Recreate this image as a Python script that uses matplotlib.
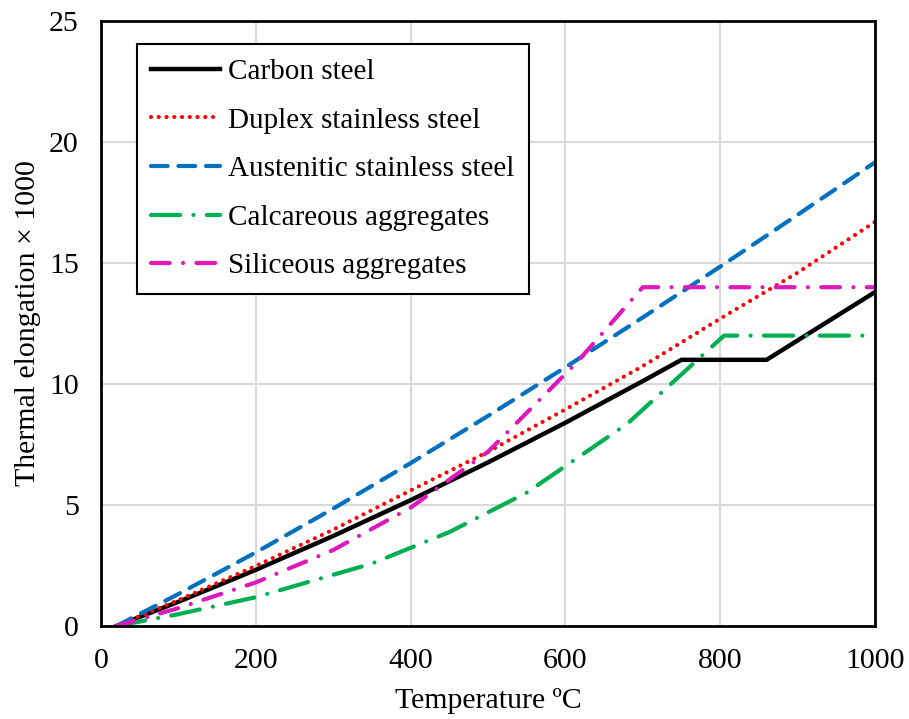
import matplotlib
matplotlib.use("Agg")
import matplotlib.pyplot as plt

plt.rcParams['font.family'] = ['Liberation Serif', 'DejaVu Serif']

# Temperatures (°C) and thermal elongation x 1000
carbon_T = [20, 100, 200, 300, 400, 500, 600, 700, 750, 860, 1000]
carbon_v = [0.0, 1.0, 2.32, 3.72, 5.2, 6.76, 8.4, 10.12, 11.0, 11.0, 13.8]

duplex_T = [20, 100, 200, 300, 400, 500, 600, 700, 800, 900, 1000]
duplex_v = [0.0, 1.07, 2.48, 3.98, 5.6, 7.2, 8.95, 10.74, 12.7, 14.6, 16.7]

aust_T = [20, 100, 200, 300, 400, 500, 600, 700, 800, 900, 1000]
aust_v = [0.0, 1.32, 3.04, 4.85, 6.73, 8.68, 10.69, 12.75, 14.85, 16.99, 19.16]

calc_T = [20, 100, 200, 350, 450, 550, 680, 805, 1000]
calc_v = [0.0, 0.49, 1.19, 2.58, 3.88, 5.51, 8.36, 12.0, 12.0]

sil_T = [20, 100, 200, 300, 400, 500, 615, 700, 1000]
sil_v = [0.0, 0.74, 1.8, 3.14, 4.89, 7.2, 10.9, 14.0, 14.0]

labels = ["Carbon steel", "Duplex stainless steel", "Austenitic stainless steel",
          "Calcareous aggregates", "Siliceous aggregates"]

fig = plt.figure(figsize=(9.09, 7.19), dpi=100)
ax = fig.add_axes([0.111, 0.1293, 0.8516, 0.8415])

lw = 3.0
ax.plot(carbon_T, carbon_v, color='black', lw=3.2, label=labels[0])
ax.plot(duplex_T, duplex_v, color='#FF0000', lw=lw, linestyle=(0, (0.01, 1.85)),
        dash_capstyle='round', label=labels[1])
ax.plot(aust_T, aust_v, color='#0070C0', lw=lw, linestyle=(0, (4.0, 2.6)),
        dash_capstyle='round', label=labels[2])
ax.plot(calc_T, calc_v, color='#00B050', lw=lw, linestyle=(0, (7, 3.2, 0.01, 3.2)),
        dash_capstyle='round', label=labels[3])
ax.plot(sil_T, sil_v, color='#DD19BB', lw=lw, linestyle=(0, (4.5, 3.2, 0.01, 3.2)),
        dash_capstyle='round', label=labels[4])

ax.set_xlim(0, 1000)
ax.set_ylim(0, 25)
ax.set_xticks([0, 200, 400, 600, 800, 1000])
ax.set_yticks([0, 5, 10, 15, 20, 25])
ax.grid(True, color='#D9D9D9', lw=1.5)
ax.set_axisbelow(True)
ax.tick_params(length=0, labelsize=21.5, pad=16)
for s in ax.spines.values():
    s.set_linewidth(2.0)
    s.set_color('black')

ax.set_xlabel("Temperature ºC", fontsize=21.5, labelpad=10)
ax.set_ylabel("Thermal elongation × 1000", fontsize=21.5, labelpad=6)

leg = ax.legend(loc='upper left', bbox_to_anchor=(0.0465, 0.962), fontsize=21,
                frameon=True, fancybox=False, edgecolor='black', framealpha=1,
                handlelength=2.35, handletextpad=0.28, labelspacing=0.76,
                borderpad=0.5, borderaxespad=0)
leg.get_frame().set_linewidth(1.5)

fig.savefig("out.png", dpi=100)
